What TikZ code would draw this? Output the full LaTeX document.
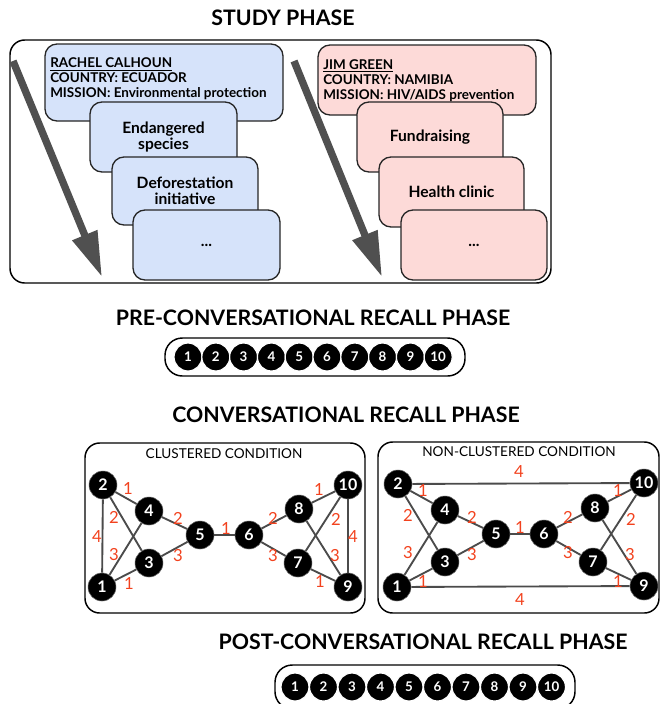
\documentclass[tikz,border=0pt]{standalone}
\usepackage{fontspec}
\setmainfont{Lato}
\usetikzlibrary{arrows.meta}
\definecolor{cardblue}{RGB}{214,227,250}
\definecolor{cardpink}{RGB}{253,218,216}
\definecolor{arrowgray}{RGB}{80,80,80}
\definecolor{edgegray}{RGB}{75,75,75}
\definecolor{wred}{RGB}{242,66,30}
\begin{document}
\begin{tikzpicture}[x=0.75pt,y=-0.75pt,
  title/.style={font=\bfseries\fontsize{16}{17}\selectfont},
  frame/.style={draw=black,line width=1.1pt,rounded corners=11pt},
  bcard/.style={draw=black!85,line width=1pt,fill=cardblue,rounded corners=9pt,inner sep=0pt},
  pcard/.style={draw=black!85,line width=1pt,fill=cardpink,rounded corners=9pt,inner sep=0pt},
  cardtxt/.style={font=\bfseries\fontsize{11.7}{12}\selectfont,align=center},
  headtxt/.style={font=\bfseries\fontsize{10.1}{11.2}\selectfont,align=left,anchor=west,inner sep=0pt},
  bigarrow/.style={draw=arrowgray,line width=5.5pt,-{Triangle[length=34pt,width=19pt]}},
  rowc/.style={circle,fill=black,draw=white,line width=0.9pt,minimum size=21pt,inner sep=0pt,text=white,font=\bfseries\fontsize{10}{11}\selectfont},
  gn/.style={circle,fill=black,draw=black!60,line width=0.4pt,minimum size=21pt,inner sep=0pt,text=white,font=\bfseries\fontsize{12}{13}\selectfont},
  ge/.style={draw=edgegray,line width=1.4pt},
  wl/.style={text=wred,font=\fontsize{12.5}{13}\selectfont,inner sep=0pt},
  cond/.style={font=\fontsize{10.2}{11}\selectfont,inner sep=0pt}]
\useasboundingbox (0,0) rectangle (660,704);

% ---------------- STUDY PHASE ----------------
\node[title] (tstudy) at (283,18) {STUDY PHASE};
\node[frame,minimum width=405.75pt,minimum height=182.25pt,inner sep=0pt] (studybox) at (280.5,161.5) {};

\coordinate (la0) at (13,61);
\coordinate (la1) at (102,277);
\draw[bigarrow] (la0) -- (la1);
\coordinate (ra0) at (294,61);
\coordinate (ra1) at (382,277);
\draw[bigarrow] (ra0) -- (ra1);

% blue cards
\node[bcard,minimum width=178.5pt,minimum height=57.75pt] (b1) at (164,82.5) {};
\node[headtxt] (b1t) at (50,79) {\underline{RACHEL CALHOUN}\\COUNTRY: ECUADOR\\MISSION: Environmental protection};
\node[bcard,cardtxt,minimum width=110.25pt,minimum height=52.5pt] (b2) at (163.5,137) {Endangered\\species};
\node[bcard,cardtxt,minimum width=109.5pt,minimum height=51pt] (b3) at (185,191) {Deforestation\\initiative};
\node[bcard,cardtxt,minimum width=110.25pt,minimum height=52.5pt] (b4) at (206.5,245) {...};

% pink cards
\node[pcard,minimum width=163.5pt,minimum height=52.5pt] (p1) at (427,80) {};
\node[headtxt] (p1t) at (323,80.5) {\underline{JIM GREEN}\\COUNTRY: NAMIBIA\\MISSION: HIV/AIDS prevention};
\node[pcard,cardtxt,minimum width=109.5pt,minimum height=52.5pt] (p2) at (430,137) {Fundraising};
\node[pcard,cardtxt,minimum width=108.75pt,minimum height=52.5pt] (p3) at (451.5,192) {Health clinic};
\node[pcard,cardtxt,minimum width=109.5pt,minimum height=52.5pt] (p4) at (474,245) {...};

% ---------------- PRE ----------------
\node[title] (tpre) at (313,318) {PRE-CONVERSATIONAL RECALL PHASE};
\node[draw=black,line width=1.1pt,rounded corners=13pt,minimum width=225pt,minimum height=28.5pt,inner sep=0pt] (prebox) at (315,357) {};
\foreach \i [count=\k from 0] in {1,...,10} {
  \node[rowc] (pre\i) at (188+27.8*\k,357) {\i};
}

% ---------------- CONVERSATIONAL ----------------
\node[title] (tconv) at (346,415) {CONVERSATIONAL RECALL PHASE};

% clustered
\node[frame,minimum width=210pt,minimum height=127.5pt,inner sep=0pt] (cbox) at (225,528) {};
\node[cond] (clab) at (224,454) {CLUSTERED CONDITION};
\node[gn] (c1) at (102,587) {1};
\node[gn] (c2) at (103,485) {2};
\node[gn] (c3) at (149,563) {3};
\node[gn] (c4) at (149,511) {4};
\node[gn] (c5) at (200,535) {5};
\node[gn] (c6) at (249,535) {6};
\node[gn] (c7) at (298,563) {7};
\node[gn] (c8) at (299,509) {8};
\node[gn] (c9) at (348,587) {9};
\node[gn] (c10) at (348,485) {10};
\draw[ge] (c1) -- (c2);
\draw[ge] (c2) -- (c4);
\draw[ge] (c2) -- (c3);
\draw[ge] (c1) -- (c4);
\draw[ge] (c1) -- (c3);
\draw[ge] (c4) -- (c5);
\draw[ge] (c3) -- (c5);
\draw[ge] (c5) -- (c6);
\draw[ge] (c6) -- (c8);
\draw[ge] (c6) -- (c7);
\draw[ge] (c8) -- (c10);
\draw[ge] (c7) -- (c10);
\draw[ge] (c8) -- (c9);
\draw[ge] (c7) -- (c9);
\draw[ge] (c10) -- (c9);
\node[wl] (cw1) at (128,489) {1};
\node[wl] (cw2) at (114,517) {2};
\node[wl] (cw3) at (97,537) {4};
\node[wl] (cw4) at (114,555) {3};
\node[wl] (cw5) at (129,584) {1};
\node[wl] (cw6) at (178,518) {2};
\node[wl] (cw7) at (178,556) {3};
\node[wl] (cw8) at (226,529) {1};
\node[wl] (cw9) at (273,518) {2};
\node[wl] (cw10) at (273,556) {3};
\node[wl] (cw11) at (319,490) {1};
\node[wl] (cw12) at (336,519) {2};
\node[wl] (cw13) at (353,537) {4};
\node[wl] (cw14) at (335,556) {3};
\node[wl] (cw15) at (320,582) {1};

% non-clustered
\node[frame,minimum width=210.75pt,minimum height=128.25pt,inner sep=0pt] (nbox) at (518.5,527.5) {};
\node[cond] (nlab) at (519,452) {NON-CLUSTERED CONDITION};
\node[gn] (n1) at (397,587) {1};
\node[gn] (n2) at (398,484) {2};
\node[gn] (n3) at (445,562) {3};
\node[gn] (n4) at (445,510) {4};
\node[gn] (n5) at (496,534) {5};
\node[gn] (n6) at (544,534) {6};
\node[gn] (n7) at (593,562) {7};
\node[gn] (n8) at (595,508) {8};
\node[gn] (n9) at (644,586) {9};
\node[gn] (n10) at (644,483) {10};
\draw[ge] (n2) -- (n10);
\draw[ge] (n1) -- (n9);
\draw[ge] (n2) -- (n4);
\draw[ge] (n2) -- (n3);
\draw[ge] (n1) -- (n4);
\draw[ge] (n1) -- (n3);
\draw[ge] (n4) -- (n5);
\draw[ge] (n3) -- (n5);
\draw[ge] (n5) -- (n6);
\draw[ge] (n6) -- (n8);
\draw[ge] (n6) -- (n7);
\draw[ge] (n8) -- (n10);
\draw[ge] (n7) -- (n10);
\draw[ge] (n8) -- (n9);
\draw[ge] (n7) -- (n9);
\node[wl] (nw0) at (519,472) {4};
\node[wl] (nw1) at (423,491) {1};
\node[wl] (nw2) at (408,515) {2};
\node[wl] (nw3) at (408,553) {3};
\node[wl] (nw4) at (423,582) {1};
\node[wl] (nw5) at (472,517) {2};
\node[wl] (nw6) at (472,555) {3};
\node[wl] (nw7) at (520,528) {1};
\node[wl] (nw8) at (568,517) {2};
\node[wl] (nw9) at (568,553) {3};
\node[wl] (nw10) at (618,491) {1};
\node[wl] (nw11) at (631,519) {2};
\node[wl] (nw12) at (630,555) {3};
\node[wl] (nw13) at (618,582) {1};
\node[wl] (nw14) at (520,600) {4};

% ---------------- POST ----------------
\node[title] (tpost) at (423,642) {POST-CONVERSATIONAL RECALL PHASE};
\node[draw=black,line width=1.1pt,rounded corners=13pt,minimum width=225pt,minimum height=33pt,inner sep=0pt] (postbox) at (425,687) {};
\foreach \i [count=\k from 0] in {1,...,10} {
  \node[rowc] (post\i) at (295+28.5*\k,687) {\i};
}
\end{tikzpicture}
\end{document}
